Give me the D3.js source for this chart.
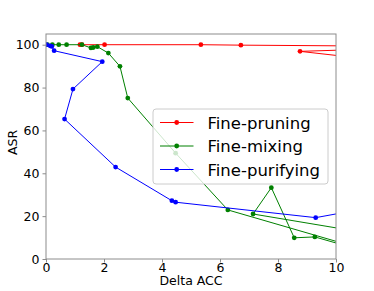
<!DOCTYPE html>
<html><head><meta charset="utf-8">
<script src="https://cdn.jsdelivr.net/npm/d3@7"></script>
<style>body{margin:0;background:#fff}svg{display:block;font-family:"DejaVu Sans",sans-serif}</style>
</head><body><svg id="c" width="374" height="291"></svg>
<script>
const seriesNames = ["Fine-pruning", "Fine-mixing", "Fine-purifying"];
const seriesColors = ["#ff0000", "#008000", "#0000ff"];
const pruningX = [1.17, 1.24, 2.02, 5.34, 6.72, 14, 8.76, 14];
const pruningY = [100, 100, 100, 100, 99.8, 99.1, 96.9, 88.9];
const mixingX = [0.05, 0.22, 0.44, 0.71, 1.24, 1.55, 1.63, 1.77, 2.15, 2.55, 2.82, 4.47, 6.27, 12, 12, 7.14, 7.77, 8.56, 9.27, 11];
const mixingY = [100, 100, 100, 100, 100, 98.5, 98.7, 99.1, 96.1, 89.9, 75.1, 49.4, 22.9, 0.4, 10.0, 21.0, 33.3, 9.9, 10.3, 3.6];
const purifyingX = [0.02, 0.14, 0.2, 0.28, 1.94, 0.93, 0.64, 2.4, 4.34, 4.47, 9.3, 11];
const purifyingY = [100, 99.5, 99.2, 97.2, 92.1, 79.3, 65.3, 42.9, 27.2, 26.5, 19.3, 23.5];
const xTicks = [0, 2, 4, 6, 8, 10];
const yTicks = [0, 20, 40, 60, 80, 100];

const svg = d3.select("#c");
const L = 46, R = 336, T = 34, B = 259;
const x = d3.scaleLinear().domain([0, 10]).range([L, R]);
const y = d3.scaleLinear().domain([0, 105]).range([B, T]);

svg.append("defs").append("clipPath").attr("id", "clip")
  .append("rect").attr("x", L).attr("y", T).attr("width", R - L).attr("height", B - T);

const series = [
  {name: seriesNames[0], color: seriesColors[0], xs: pruningX, ys: pruningY},
  {name: seriesNames[1], color: seriesColors[1], xs: mixingX, ys: mixingY},
  {name: seriesNames[2], color: seriesColors[2], xs: purifyingX, ys: purifyingY}
];

const plot = svg.append("g").attr("clip-path", "url(#clip)");
const line = d3.line().x(d => x(d[0])).y(d => y(d[1]));
series.forEach(s => {
  const pts = s.xs.map((v, i) => [v, s.ys[i]]);
  plot.append("path").datum(pts).attr("d", line)
    .attr("fill", "none").attr("stroke", s.color).attr("stroke-width", 1);
  plot.selectAll(null).data(pts).enter().append("circle")
    .attr("cx", d => x(d[0])).attr("cy", d => y(d[1])).attr("r", 2.4).attr("fill", s.color);
});

// frame
const spine = "#8c8c8c";
svg.append("rect").attr("x", L).attr("y", T).attr("width", R - L).attr("height", B - T)
  .attr("fill", "none").attr("stroke", spine).attr("stroke-width", 1);

const xAxis = svg.append("g").attr("transform", `translate(0,${B})`)
  .call(d3.axisBottom(x).tickValues(xTicks).tickFormat(d3.format("d")).tickSize(3.5).tickPadding(1));
const yAxis = svg.append("g").attr("transform", `translate(${L},0)`)
  .call(d3.axisLeft(y).tickValues(yTicks).tickFormat(d3.format("d")).tickSize(3.5).tickPadding(3));
[xAxis, yAxis].forEach(a => {
  a.select(".domain").remove();
  a.selectAll(".tick line").attr("stroke", spine);
  a.selectAll(".tick text").attr("fill", "#000").style("font-size", "12.5px")
    .style("font-family", "DejaVu Sans");
});

svg.append("text").attr("x", x(5)).attr("y", 285).attr("text-anchor", "middle")
  .style("font-size", "12.5px").text("Delta ACC");
svg.append("text").attr("transform", `translate(17,${(T + B) / 2 - 4}) rotate(-90)`)
  .attr("text-anchor", "middle").style("font-size", "12.5px").text("ASR");

// legend
const lg = svg.append("g");
lg.append("rect").attr("x", 153).attr("y", 109).attr("width", 175).attr("height", 75).attr("rx", 3)
  .attr("fill", "#fff").attr("fill-opacity", 0.8).attr("stroke", "#cccccc").attr("stroke-width", 1);
series.forEach((s, i) => {
  const cy = 122.5 + i * 23.5;
  lg.append("line").attr("x1", 160).attr("x2", 193.5).attr("y1", cy).attr("y2", cy)
    .attr("stroke", s.color).attr("stroke-width", 1);
  lg.append("circle").attr("cx", 176.7).attr("cy", cy).attr("r", 2.4).attr("fill", s.color);
  lg.append("text").attr("x", 207.5).attr("y", cy + 6).style("font-size", "16.5px").attr("fill", "#000").text(s.name);
});
</script></body></html>
